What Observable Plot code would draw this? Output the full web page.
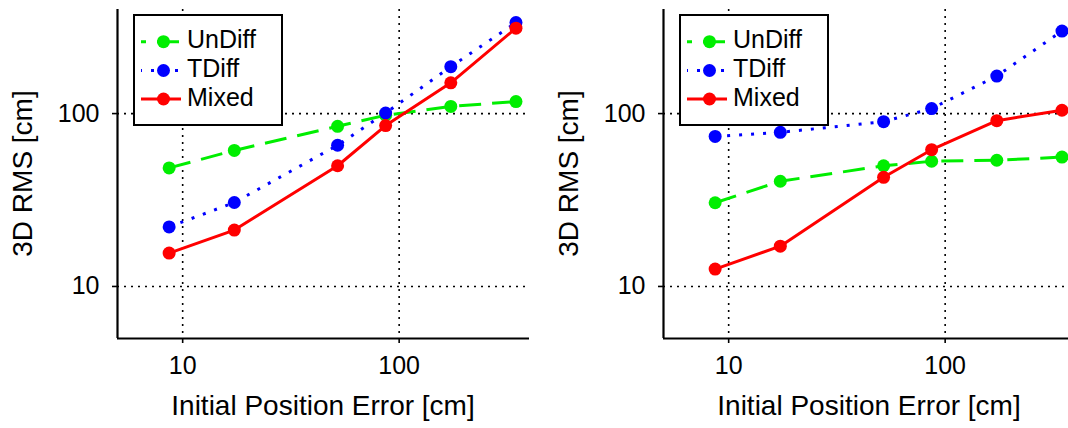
<!DOCTYPE html>
<html>
<head>
<meta charset="utf-8">
<script src="https://cdn.jsdelivr.net/npm/d3@7"></script>
<script src="https://cdn.jsdelivr.net/npm/@observablehq/plot@0.6"></script>
<style>
  html, body { margin: 0; padding: 0; background: white; overflow: hidden; }
  #wrap { display: flex; flex-direction: row; width: 1092px; height: 428px; }
  #wrap svg { flex: none; }
</style>
</head>
<body>
<div id="wrap"></div>
<script>
// Initial position error [cm] (x values, shared by both panels)
const xErr = [8.66, 17.32, 51.96, 86.6, 173.2, 346.4];
const seriesNames = ["UnDiff", "TDiff", "Mixed"];
const seriesColors = ["#00ee00", "#0000ff", "#ff0000"];
const seriesDash = ["22,11", "3,9", null];
const xTicks = [10, 100];
const yTicks = [10, 100];
const xLabel = "Initial Position Error [cm]";
const yLabel = "3D RMS [cm]";

// Left panel 3D RMS [cm]
const undiffLeft = [48.5, 61.2, 84.4, 97.8, 110, 117.4];
const tdiffLeft  = [22.1, 30.6, 65.6, 100.8, 186.7, 336];
const mixedLeft  = [15.6, 21.2, 49.9, 85.2, 150.6, 312];

// Right panel 3D RMS [cm]
const undiffRight = [30.5, 40.6, 49.9, 53.0, 53.7, 56.0];
const tdiffRight  = [73.8, 77.9, 89.8, 106.9, 164.9, 300];
const mixedRight  = [12.6, 17.1, 42.8, 61.8, 91.0, 104.5];

const FONT = "'Liberation Sans', Arial, Helvetica, sans-serif";

function makePanel(seriesValues) {
  const W = 546, H = 428;
  const data = [];
  seriesValues.forEach((vals, si) => {
    vals.forEach((v, i) => data.push({series: seriesNames[si], x: xErr[i], y: v}));
  });
  const seriesMarks = [];
  seriesNames.forEach((name, si) => {
    const d = data.filter(r => r.series === name);
    seriesMarks.push(Plot.line(d, {
      x: "x", y: "y", stroke: seriesColors[si], strokeWidth: 3,
      strokeDasharray: seriesDash[si] || undefined,
      strokeLinecap: "butt"
    }));
    seriesMarks.push(Plot.dot(d, {x: "x", y: "y", r: 6.5, fill: seriesColors[si], stroke: "none"}));
  });

  const grid = {stroke: "black", strokeOpacity: 1, strokeWidth: 1.6, strokeDasharray: "2,5"};
  const plot = Plot.plot({
    width: W, height: H,
    marginLeft: 117, marginRight: 17, marginTop: 9, marginBottom: 90,
    x: {type: "log", domain: [5, 400]},
    y: {type: "log", domain: [5, 400]},
    style: {fontFamily: FONT, background: "white", color: "black", overflow: "visible"},
    marks: [
      Plot.ruleX(xTicks, grid),
      Plot.ruleY(yTicks, grid),
      Plot.axisX({ticks: xTicks, tickFormat: d => String(d), tickSize: 5, tickPadding: 13,
                  fontSize: 25, label: null, strokeWidth: 1.6}),
      Plot.axisY({ticks: yTicks, tickFormat: d => String(d), tickSize: 5, tickPadding: 13,
                  fontSize: 25, label: null, strokeWidth: 1.6}),
      ...seriesMarks,
      Plot.ruleX([5], {stroke: "black", strokeWidth: 2.2}),
      Plot.ruleY([5], {stroke: "black", strokeWidth: 2.2})
    ]
  });

  const svg = d3.select(plot);
  // axis titles
  svg.append("text")
    .attr("x", (117 + (W - 17)) / 2).attr("y", 408)
    .attr("text-anchor", "middle").attr("dominant-baseline", "middle")
    .attr("font-size", 28).attr("font-family", FONT).attr("fill", "black")
    .text(xLabel);
  svg.append("text")
    .attr("transform", `translate(25,${(9 + (H - 90)) / 2}) rotate(-90)`)
    .attr("text-anchor", "middle").attr("dominant-baseline", "middle")
    .attr("font-size", 28).attr("font-family", FONT).attr("fill", "black")
    .text(yLabel);

  // legend
  const lg = svg.append("g").attr("text-anchor", "start");
  lg.append("rect").attr("x", 134).attr("y", 15).attr("width", 148).attr("height", 110)
    .attr("fill", "white").attr("stroke", "black").attr("stroke-width", 2);
  const rowY = [41.7, 70.5, 99];
  const dashOffsets = [17, 2, 0];
  seriesNames.forEach((name, si) => {
    const ln = lg.append("line").attr("x1", 141).attr("x2", 181)
      .attr("y1", rowY[si]).attr("y2", rowY[si])
      .attr("stroke", seriesColors[si]).attr("stroke-width", 3);
    if (seriesDash[si]) ln.attr("stroke-dasharray", seriesDash[si]).attr("stroke-dashoffset", dashOffsets[si]);
    lg.append("circle").attr("cx", 163.5).attr("cy", rowY[si]).attr("r", 6.5).attr("fill", seriesColors[si]);
    lg.append("text").attr("x", 187).attr("y", rowY[si])
      .attr("text-anchor", "start")
      .attr("dominant-baseline", "middle").attr("font-size", 25)
      .attr("font-family", FONT).attr("fill", "black").text(name);
  });
  return plot;
}

const wrap = document.getElementById("wrap");
wrap.appendChild(makePanel([undiffLeft, tdiffLeft, mixedLeft]));
wrap.appendChild(makePanel([undiffRight, tdiffRight, mixedRight]));
</script>
</body>
</html>
